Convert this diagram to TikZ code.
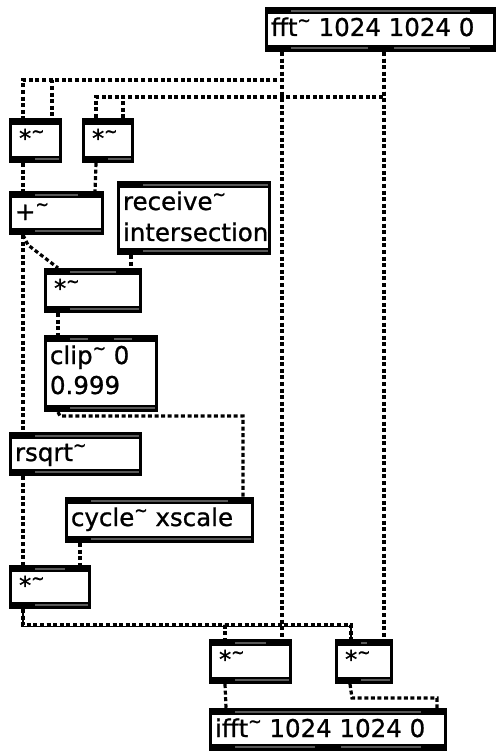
\documentclass[tikz,border=0pt]{standalone}
\usepackage{fontspec}
\setmainfont{DejaVu Sans}[FakeBold=0.9]
\usetikzlibrary{calc}
\tikzset{
 objbox/.style={fill=black, draw=none, inner sep=0pt, outer sep=0pt},
 stripe/.style={fill=black!65},
 objtext/.style={inner sep=0pt, outer sep=0pt, anchor=base west, font=\fontsize{24.5}{31}\selectfont},
 cord/.style={draw=black, line width=3.2pt, dash pattern=on 4pt off 2.6pt},
 combcord/.style={cord, postaction={draw=black, line width=1.3pt, solid, transform canvas={yshift=-1.2pt}}},
}
\newcommand\tld{\raisebox{0.37em}{\scalebox{0.65}[0.8]{\char`\~}}}
\newcommand\mstripes[5]{%
 \ifnum#3=1
   \fill[stripe] (#1+26,#4) rectangle (#1+\mw-3,#5);
 \else
   \pgfmathsetmacro\mysp{(#2-26)/(#3-1)}%
   \pgfmathtruncatemacro\mynn{#3-2}%
   \foreach \i in {0,...,\mynn}{%
     \pgfmathsetmacro\ga{#1+\i*\mysp+26}%
     \pgfmathsetmacro\gb{#1+(\i+1)*\mysp}%
     \pgfmathsetmacro\gc{\ga+2}%
     \ifdim\gc pt<\gb pt \fill[stripe] (\ga,#4) rectangle (\gb,#5);\fi
   }%
 \fi}
\newcommand\mobj[8]{%
 \pgfmathsetmacro\mw{#4-#2}\pgfmathsetmacro\mh{#5-#3}%
 \node[objbox, minimum width=\mw pt, minimum height=\mh pt, anchor=north west] (#1) at (#2,#3) {};
 \fill[white] (#2+3,#3+7) rectangle (#4-3,#5-7);
 \mstripes{#2}{\mw}{#6}{#3+2.7}{#3+5}
 \mstripes{#2}{\mw}{#7}{#5-5}{#5-2.7}
 \node[objtext] (#1-t) at (#2+6,#3+29) {#8};
}
\begin{document}
\begin{tikzpicture}[x=1pt,y=-1pt]
\useasboundingbox (0,0) rectangle (497,751);
\mobj{fft}{265}{7}{496}{52}{2}{3}{fft\tld{} 1024 1024 0}
\mobj{m1}{9}{118}{62}{163}{2}{1}{\hspace{4pt}*\tld}
\mobj{m2}{82}{118}{134}{163}{2}{1}{\hspace{4pt}*\tld}
\mobj{plus}{9}{191}{104}{235}{2}{1}{+\tld}
\mobj{recv}{117}{181}{271}{255}{1}{1}{\parbox[t]{150pt}{\fontsize{24.5}{31}\selectfont\raggedright receive\tld\\intersection}}
\mobj{m3}{44}{268}{142}{313}{2}{1}{\hspace{4pt}*\tld}
\mobj{clip}{44}{335}{158}{412}{3}{1}{\parbox[t]{110pt}{\fontsize{24.5}{30}\selectfont\raggedright clip\tld{} 0\\0.999}}
\mobj{rsqrt}{9}{432}{142}{476}{1}{1}{rsqrt\tld}
\mobj{cyc}{65}{497}{254}{543}{2}{1}{cycle\tld{} xscale}
\mobj{m4}{9}{565}{91}{609}{2}{1}{\hspace{4pt}*\tld}
\mobj{m5}{209}{639}{292}{684}{2}{1}{\hspace{4pt}*\tld}
\mobj{m6}{335}{639}{393}{684}{2}{1}{\hspace{4pt}*\tld}
\mobj{ifft}{209}{708}{447}{751}{2}{3}{ifft\tld{} 1024 1024 0}
% cords
\draw[cord] ([xshift=17pt]fft.south west) -- ++(0,28) -| ([xshift=14pt]m1.north west);
\draw[cord] ([xshift=17pt]fft.south west) -- ++(0,28) -| ([xshift=-10pt]m1.north east);
\draw[cord] ([xshift=119pt]fft.south west) -- ++(0,45) -| ([xshift=14pt]m2.north west);
\draw[cord] ([xshift=119pt]fft.south west) -- ++(0,45) -| ([xshift=-11pt]m2.north east);
\draw[cord] ([xshift=17pt]fft.south west) -- ([xshift=-10pt]m5.north east);
\draw[cord] ([xshift=119pt]fft.south west) -- ([xshift=-9pt]m6.north east);
\draw[cord] ([xshift=14pt]m1.south west) -- ([xshift=14pt]plus.north west);
\draw[cord] ([xshift=14pt]m2.south west) -- ([xshift=-9pt]plus.north east);
\draw[cord] ([xshift=14pt]plus.south west) -- ([xshift=14pt]rsqrt.north west);
\draw[cord] ([xshift=14pt]plus.south west) -- ++(5,10) -- ([xshift=14pt]m3.north west);
\draw[cord] ([xshift=14pt]recv.south west) -- ([xshift=-11pt]m3.north east);
\draw[cord] ([xshift=14pt]m3.south west) -- ([xshift=14pt]clip.north west);
\draw[cord] ([xshift=14pt]clip.south west) -- ++(2,4) -| ([xshift=-11pt]cyc.north east);
\draw[cord] ([xshift=14pt]rsqrt.south west) -- ([xshift=14pt]m4.north west);
\draw[cord] ([xshift=15pt]cyc.south west) -- ([xshift=-11pt]m4.north east);
\draw[combcord] ([xshift=14pt]m4.south west) -- ++(0,16) -| ([xshift=16pt]m6.north west);
\draw[cord] ([xshift=14pt]m4.south west) -- ++(0,16) -| ([xshift=16pt]m5.north west);
\draw[cord] ([xshift=16pt]m5.south west) -- ([xshift=17pt]ifft.north west);
\draw[cord] ([xshift=15pt]m6.south west) -- ++(2,14) -| ([xshift=-10pt]ifft.north east);
\end{tikzpicture}
\end{document}
